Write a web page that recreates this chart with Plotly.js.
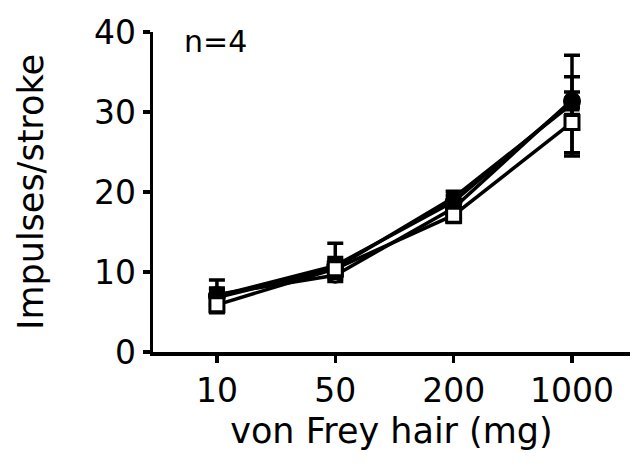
<!DOCTYPE html>
<html>
<head>
<meta charset="utf-8">
<script src="https://cdn.plot.ly/plotly-3.0.1.min.js"></script>
<style>html,body{margin:0;padding:0;background:#fff;}#chart{width:632px;height:466px;}</style>
</head>
<body>
<div id="chart"></div>
<script>
var categories = ["10", "50", "200", "1000"];
var filledCircle = [7.0, 10.8, 18.8, 31.3];
var filledCircleErrUp = [1.0, 1.0, 0.8, 3.1];
var filledCircleErrDown = [1.0, 1.0, 0.8, 3.1];
var filledSquare = [6.8, 10.5, 19.3, 31.0];
var filledSquareErrUp = [1.0, 1.0, 0.8, 6.1];
var filledSquareErrDown = [1.0, 1.0, 0.8, 6.1];
var openCircle = [7.2, 9.6, 18.0, 31.5];
var openCircleErrUp = [1.8, 0.8, 0.8, 1.0];
var openCircleErrDown = [1.8, 0.8, 0.8, 1.0];
var openSquare = [5.9, 10.4, 17.1, 28.7];
var openSquareErrUp = [1.0, 3.2, 0.9, 1.0];
var openSquareErrDown = [1.0, 1.2, 0.9, 4.2];

var FONT = "DejaVu Sans, sans-serif";

function series(y, up, down, symbol, fill, size) {
  return {
    x: categories, y: y, type: "scatter", mode: "lines+markers",
    line: {color: "#000", width: 3.5},
    marker: {symbol: symbol, size: size, color: fill, line: {color: "#000", width: 3}},
    error_y: {type: "data", symmetric: false, array: up, arrayminus: down, visible: true, color: "#000", thickness: 3.5, width: 8},
    cliponaxis: false, showlegend: false
  };
}

var data = [
  series(filledSquare, filledSquareErrUp, filledSquareErrDown, "square", "#000", 12),
  series(openCircle, openCircleErrUp, openCircleErrDown, "circle", "#fff", 14),
  series(filledCircle, filledCircleErrUp, filledCircleErrDown, "circle", "#000", 15),
  series(openSquare, openSquareErrUp, openSquareErrDown, "square", "#fff", 14)
];

var layout = {
  width: 632, height: 466,
  margin: {l: 153, r: 2, t: 32, b: 114},
  paper_bgcolor: "#fff", plot_bgcolor: "#fff",
  font: {family: FONT, color: "#000", size: 33},
  xaxis: {
    type: "category", range: [-0.54, 3.49],
    showline: true, linecolor: "#000", linewidth: 3.5,
    ticks: "outside", ticklen: 7, tickwidth: 3.5, tickcolor: "#000",
    showgrid: false, zeroline: false,
    tickfont: {family: FONT, size: 33},
    title: {text: "von Frey hair (mg)", font: {family: FONT, size: 35}, standoff: 10}
  },
  yaxis: {
    range: [0, 40], tickvals: [0, 10, 20, 30, 40],
    showline: true, linecolor: "#000", linewidth: 3.5,
    ticks: "outside", ticklen: 7, tickwidth: 3.5, tickcolor: "#000",
    showgrid: false, zeroline: false,
    tickfont: {family: FONT, size: 33},
    title: {text: "Impulses/stroke", font: {family: FONT, size: 35}, standoff: 40}
  },
  annotations: [{
    text: "n=4", xref: "paper", yref: "paper", x: 0.06, y: 0.97,
    xanchor: "left", yanchor: "middle", showarrow: false,
    font: {family: FONT, size: 30}
  }]
};

Plotly.newPlot("chart", data, layout, {displayModeBar: false, staticPlot: true});
</script>
</body>
</html>
